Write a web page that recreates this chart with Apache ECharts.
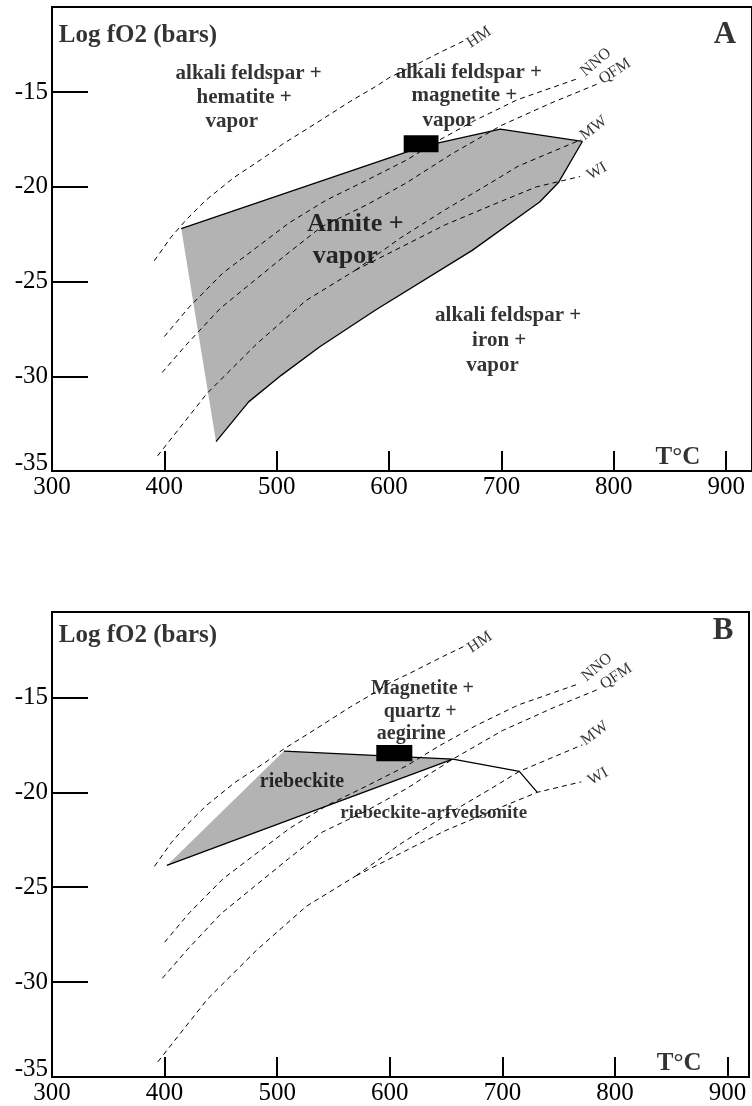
<!DOCTYPE html>
<html lang="en">
<head>
    <meta charset="utf-8" />
    <title>Log fO2 - T diagrams</title>
    <script src="https://cdn.jsdelivr.net/npm/echarts@6/dist/echarts.min.js"></script>
    <style>
        html, body { margin: 0; padding: 0; background: #fff; }
        #main { width: 752px; height: 1106px; }
    </style>
</head>
<body>
<div id="main"></div>
<script type="text/javascript">
    // axis ticks
    var xTicks = [300, 400, 500, 600, 700, 800, 900];
    var yTicks = [-35, -30, -25, -20, -15];

    // oxygen buffers, T (°C) / log fO2, same in both panels
    var hmT = [391, 406, 420, 437, 462, 490, 505, 536, 565, 588, 601, 617, 647, 668];
    var hmY = [-23.9, -22.65, -21.7, -20.7, -19.5, -18.4, -17.75, -16.6, -15.5, -14.7, -14.2, -13.75, -12.85, -12.25];
    var nnoT = [400, 422, 452, 482, 511, 544, 580, 615, 644, 676, 714, 767];
    var nnoY = [-27.9, -26.35, -24.55, -23.2, -21.9, -20.7, -19.65, -18.6, -17.55, -16.5, -15.4, -14.3];
    var qfmT = [398, 420, 450, 480, 510, 540, 580, 615, 656, 700, 745, 786];
    var qfmY = [-29.8, -28.3, -26.4, -24.95, -23.5, -22.1, -20.95, -19.8, -18.25, -16.75, -15.55, -14.55];
    var imT = [394, 438, 482, 526, 570];
    var imY = [-34.2, -30.9, -28.3, -26.0, -24.4];
    var mwT = [570, 610, 650, 690, 715, 771];
    var mwY = [-24.4, -22.7, -21.2, -19.8, -18.9, -17.5];
    var wiT = [570, 610, 650, 690, 731, 770];
    var wiY = [-24.4, -23.2, -22.0, -21.0, -20.0, -19.45];

    // panel A: annite + vapor field
    var annT = [415, 631, 699, 772, 751, 734, 674, 588, 538, 504, 475, 446];
    var annY = [-22.2, -17.85, -16.95, -17.6, -19.75, -20.8, -23.35, -26.5, -28.45, -29.95, -31.35, -33.45];
    var boxAT = [613, 644];
    var boxAY = [-18.17, -17.27];

    // panel B: riebeckite field and its continuation
    var riebT = [402, 506, 656];
    var riebY = [-23.85, -17.83, -18.25];
    var riebExtT = [656, 715, 731];
    var riebExtY = [-18.25, -18.9, -20.0];
    var boxBT = [588, 620];
    var boxBY = [-18.36, -17.51];

    // buffer names
    var bufNames = ['HM', 'NNO', 'QFM', 'MW', 'WI'];
    var bufLabelT = [680, 784, 801, 782, 785];
    var bufLabelY = [-12.1, -13.42, -13.9, -16.9, -19.17];
    var bufLabelRot = [34, 40, 33, 37, 30];

    // field names
    var fieldTextA = ['alkali feldspar +', 'hematite +', 'vapor',
        'alkali feldspar +', 'magnetite +', 'vapor',
        'alkali feldspar +', 'iron +', 'vapor'];
    var fieldTA = [475, 471, 460, 671, 667, 653, 706, 698, 692];
    var fieldYA = [-14.0, -15.26, -16.53, -13.94, -15.16, -16.48, -26.77, -28.09, -29.41];
    var annText = ['Annite +', 'vapor'];
    var annTextT = [570, 561];
    var annTextY = [-21.97, -23.65];
    var fieldTextB = ['Magnetite +', 'quartz +', 'aegirine', 'riebeckite', 'riebeckite-arfvedsonite'];
    var fieldTB = [629, 627, 619, 522, 639];
    var fieldYB = [-14.56, -15.77, -16.93, -19.47, -21.11];

    var serif = "'Liberation Serif', 'Times New Roman', serif";

    function pairs(t, y) {
        var out = [];
        for (var i = 0; i < t.length; i++) out.push([t[i], y[i]]);
        return out;
    }

    function lineSeries(g, t, y, dashed) {
        return {
            type: 'line', xAxisIndex: g, yAxisIndex: g, data: pairs(t, y),
            symbol: 'none', silent: true, z: 3,
            lineStyle: {color: '#000', width: dashed ? 1 : 1.3, type: dashed ? [5, 4] : 'solid'}
        };
    }

    function polySeries(g, t, y) {
        return {
            type: 'custom', xAxisIndex: g, yAxisIndex: g, data: [[t[0], y[0]]], silent: true, z: 1,
            renderItem: function (params, api) {
                var pts = [];
                for (var i = 0; i < t.length; i++) pts.push(api.coord([t[i], y[i]]));
                return {type: 'polygon', shape: {points: pts}, style: {fill: '#b3b3b3'}};
            }
        };
    }

    function boxSeries(g, t, y) {
        return {
            type: 'custom', xAxisIndex: g, yAxisIndex: g, data: [[t[0], y[0]]], silent: true, z: 5,
            renderItem: function (params, api) {
                var p0 = api.coord([t[0], y[1]]);
                var p1 = api.coord([t[1], y[0]]);
                return {type: 'rect', shape: {x: p0[0], y: p0[1], width: p1[0] - p0[0], height: p1[1] - p0[1]},
                    style: {fill: '#000'}};
            }
        };
    }

    function textSeries(g, texts, t, y, opts) {
        var data = [];
        for (var i = 0; i < texts.length; i++) {
            data.push({
                value: [t[i], y[i]],
                label: {formatter: texts[i], rotate: opts.rot ? opts.rot[i] : 0}
            });
        }
        return {
            type: 'scatter', xAxisIndex: g, yAxisIndex: g, data: data, symbolSize: 0, silent: true, z: 6,
            label: {
                show: true, position: 'inside', color: '#000', fontFamily: serif,
                fontSize: opts.size, fontWeight: opts.bold ? 'bold' : 'normal',
                align: opts.align || 'center', verticalAlign: 'middle'
            }
        };
    }

    function xAxis(g, max) {
        return {
            type: 'value', gridIndex: g, min: 300, max: max, interval: 100,
            axisLine: {lineStyle: {color: '#000', width: 2}},
            axisTick: {inside: true, length: 20, lineStyle: {color: '#000', width: 2}},
            axisLabel: {color: '#000', fontFamily: serif, fontSize: 25, margin: 4, showMaxLabel: false},
            splitLine: {show: false}
        };
    }

    function yAxis(g) {
        return {
            type: 'value', gridIndex: g, min: -35, max: -10.5, interval: 5,
            axisLine: {lineStyle: {color: '#000', width: 2}},
            axisTick: {inside: true, length: 36, lineStyle: {color: '#000', width: 2}},
            axisLabel: {
                color: '#000', fontFamily: serif, fontSize: 25, margin: 4, showMaxLabel: false,
                formatter: function (v) { return v === -35 ? '{low|-35}' : String(v); },
                rich: {low: {fontFamily: serif, fontSize: 25, color: '#000', padding: [0, 0, 16, 0]}}
            },
            splitLine: {show: false}
        };
    }

    function panelSeries(g, letter) {
        var s = [];
        if (g === 0) {
            s.push(polySeries(0, annT, annY));
        } else {
            s.push(polySeries(1, riebT, riebY));
        }
        s.push(lineSeries(g, hmT, hmY, true));
        s.push(lineSeries(g, nnoT, nnoY, true));
        s.push(lineSeries(g, qfmT, qfmY, true));
        s.push(lineSeries(g, imT, imY, true));
        s.push(lineSeries(g, mwT, mwY, true));
        s.push(lineSeries(g, wiT, wiY, true));
        if (g === 0) {
            // outline of the field, left edge left open
            s.push(lineSeries(0, annT, annY, false));
            s.push(boxSeries(0, boxAT, boxAY));
            s.push(textSeries(0, fieldTextA, fieldTA, fieldYA, {size: 21, bold: true}));
            s.push(textSeries(0, annText, annTextT, annTextY, {size: 26, bold: true}));
        } else {
            s.push(lineSeries(1, [riebT[1], riebT[2], riebT[0]], [riebY[1], riebY[2], riebY[0]], false));
            s.push(lineSeries(1, riebExtT, riebExtY, false));
            s.push(boxSeries(1, boxBT, boxBY));
            s.push(textSeries(1, fieldTextB.slice(0, 4), fieldTB.slice(0, 4), fieldYB.slice(0, 4), {size: 20, bold: true}));
            s.push(textSeries(1, fieldTextB.slice(4), fieldTB.slice(4), fieldYB.slice(4), {size: 19, bold: true}));
        }
        s.push(textSeries(g, bufNames, bufLabelT, bufLabelY, {size: 16, rot: bufLabelRot}));
        s.push(textSeries(g, ['Log fO2 (bars)'], [306], [g === 0 ? -12.0 : -11.76], {size: 25, bold: true, align: 'left'}));
        s.push(textSeries(g, [letter], [g === 0 ? 899 : 896], [g === 0 ? -12.0 : -11.5], {size: 31, bold: true}));
        s.push(textSeries(g, ['T°C'], [857], [-34.3], {size: 25, bold: true}));
        return s;
    }

    var chart = echarts.init(document.getElementById('main'));
    var option = {
        animation: false,
        backgroundColor: '#fff',
        grid: [
            {left: 52, top: 7, width: 702, height: 464, show: true, borderColor: '#000', borderWidth: 2},
            {left: 52, top: 612, width: 697, height: 465, show: true, borderColor: '#000', borderWidth: 2}
        ],
        xAxis: [xAxis(0, 923), xAxis(1, 919)],
        yAxis: [yAxis(0), yAxis(1)],
        series: panelSeries(0, 'A').concat(panelSeries(1, 'B'))
    };
    chart.setOption(option);
</script>
</body>
</html>
